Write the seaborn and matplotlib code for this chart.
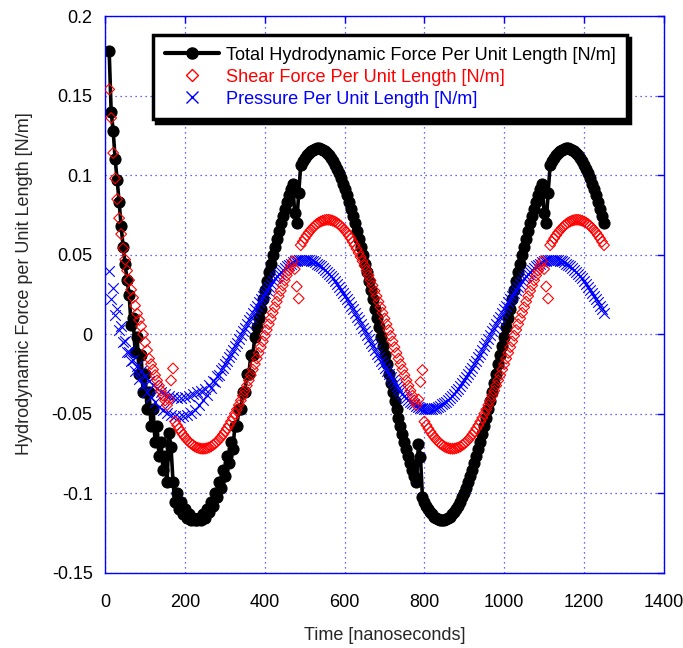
import numpy as np
import pandas as pd
import seaborn as sns
import matplotlib
matplotlib.use("Agg")
from matplotlib import pyplot as plt
from matplotlib.lines import Line2D
from matplotlib.ticker import FuncFormatter

# sampling times [ns], one sample every 5 ns
time_ns = np.arange(10, 1255, 5)

# total hydrodynamic force per unit length [N/m]
total_force = [
    0.178, 0.140, 0.128, 0.110, 0.097, 0.083, 0.068, 0.055, 0.044, 0.034,
    0.025, 0.006, 0.0103, -0.011, -0.0015, -0.0248, -0.0132, -0.0362, -0.0248, -0.0471,
    -0.0362, -0.0576, -0.0471, -0.0676, -0.0576, -0.0768, -0.0676, -0.0853, -0.0768, -0.0929,
    -0.062, -0.071, -0.0929, -0.1052, -0.0996, -0.1098, -0.1052, -0.1133, -0.1098, -0.1157,
    -0.1133, -0.1169, -0.1157, -0.1169, -0.1169, -0.1157, -0.1169, -0.1133, -0.1157, -0.1098,
    -0.1117, -0.1052, -0.1077, -0.0996, -0.1025, -0.0929, -0.0964, -0.0853, -0.0892, -0.0768,
    -0.0812, -0.0676, -0.0723, -0.0576, -0.0576, -0.0471, -0.0471, -0.0362, -0.0362, -0.0248,
    -0.0248, -0.0132, -0.0132, -0.0015, 0.0044, 0.0103, 0.0161, 0.0219, 0.0277, 0.0333,
    0.0389, 0.0444, 0.0498, 0.0551, 0.0602, 0.0652, 0.0700, 0.0746, 0.0790, 0.0832,
    0.0873, 0.0911, 0.0947, 0.076, 0.070, 0.089, 0.1065, 0.1088, 0.1108, 0.1126,
    0.1140, 0.1152, 0.1161, 0.1167, 0.1170, 0.1170, 0.1167, 0.1161, 0.1152, 0.1140,
    0.1126, 0.1108, 0.1088, 0.1065, 0.1039, 0.1011, 0.0980, 0.0947, 0.0911, 0.0873,
    0.0832, 0.0790, 0.0746, 0.0700, 0.0652, 0.0602, 0.0551, 0.0498, 0.0444, 0.0389,
    0.0333, 0.0277, 0.0219, 0.0161, 0.0103, 0.0044, -0.0015, -0.0073, -0.0132, -0.0190,
    -0.0248, -0.0305, -0.0362, -0.0417, -0.0471, -0.0525, -0.0576, -0.0627, -0.0676, -0.0723,
    -0.0768, -0.0812, -0.0853, -0.0892, -0.0929, -0.069, -0.077, -0.1025, -0.1052, -0.1077,
    -0.1098, -0.1117, -0.1133, -0.1146, -0.1157, -0.1164, -0.1169, -0.1170, -0.1169, -0.1164,
    -0.1157, -0.1146, -0.1133, -0.1117, -0.1098, -0.1077, -0.1052, -0.1025, -0.0996, -0.0964,
    -0.0929, -0.0892, -0.0853, -0.0812, -0.0768, -0.0723, -0.0676, -0.0627, -0.0576, -0.0525,
    -0.0471, -0.0417, -0.0362, -0.0305, -0.0248, -0.0190, -0.0132, -0.0073, -0.0015, 0.0044,
    0.0103, 0.0161, 0.0219, 0.0277, 0.0333, 0.0389, 0.0444, 0.0498, 0.0551, 0.0602,
    0.0652, 0.0700, 0.0746, 0.0790, 0.0832, 0.0873, 0.0911, 0.0947, 0.076, 0.070,
    0.089, 0.1065, 0.1088, 0.1108, 0.1126, 0.1140, 0.1152, 0.1161, 0.1167, 0.1170,
    0.1170, 0.1167, 0.1161, 0.1152, 0.1140, 0.1126, 0.1108, 0.1088, 0.1065, 0.1039,
    0.1011, 0.0980, 0.0947, 0.0911, 0.0873, 0.0832, 0.0790, 0.0746, 0.0700,
]

# shear force per unit length [N/m]
shear_force = [
    0.154, 0.136, 0.114, 0.098, 0.085, 0.073, 0.063, 0.054, 0.047, 0.040,
    0.034, 0.028, 0.023, 0.018, 0.013, 0.009, 0.005, 0.000, -0.005, -0.010,
    -0.0153, -0.0188, -0.0222, -0.0257, -0.0290, -0.0323, -0.0355, -0.0386, -0.0416, -0.0445,
    -0.041, -0.029, -0.0215, -0.0549, -0.0572, -0.0593, -0.0613, -0.0631, -0.0648, -0.0663,
    -0.0676, -0.0688, -0.0697, -0.0706, -0.0712, -0.0716, -0.0719, -0.0720, -0.0719, -0.0716,
    -0.0712, -0.0706, -0.0697, -0.0688, -0.0676, -0.0663, -0.0648, -0.0631, -0.0613, -0.0593,
    -0.0572, -0.0549, -0.0525, -0.0499, -0.0473, -0.0445, -0.0416, -0.0386, -0.0355, -0.0323,
    -0.0290, -0.0257, -0.0222, -0.0188, -0.0153, -0.0117, -0.0081, -0.0045, -0.0009, 0.0027,
    0.0063, 0.0099, 0.0135, 0.0170, 0.0205, 0.0240, 0.0273, 0.0307, 0.0339, 0.0370,
    0.0401, 0.0431, 0.0459, 0.041, 0.030, 0.0225, 0.0560, 0.0582, 0.0603, 0.0622,
    0.0640, 0.0655, 0.0669, 0.0682, 0.0693, 0.0702, 0.0709, 0.0714, 0.0718, 0.0720,
    0.0720, 0.0718, 0.0714, 0.0709, 0.0702, 0.0693, 0.0682, 0.0669, 0.0655, 0.0640,
    0.0622, 0.0603, 0.0582, 0.0560, 0.0537, 0.0512, 0.0486, 0.0459, 0.0431, 0.0401,
    0.0370, 0.0339, 0.0307, 0.0273, 0.0240, 0.0205, 0.0170, 0.0135, 0.0099, 0.0063,
    0.0027, -0.0009, -0.0045, -0.0081, -0.0117, -0.0153, -0.0188, -0.0222, -0.0257, -0.0290,
    -0.0323, -0.0355, -0.0386, -0.0416, -0.0445, -0.041, -0.030, -0.0225, -0.0549, -0.0572,
    -0.0593, -0.0613, -0.0631, -0.0648, -0.0663, -0.0676, -0.0688, -0.0697, -0.0706, -0.0712,
    -0.0716, -0.0719, -0.0720, -0.0719, -0.0716, -0.0712, -0.0706, -0.0697, -0.0688, -0.0676,
    -0.0663, -0.0648, -0.0631, -0.0613, -0.0593, -0.0572, -0.0549, -0.0525, -0.0499, -0.0473,
    -0.0445, -0.0416, -0.0386, -0.0355, -0.0323, -0.0290, -0.0257, -0.0222, -0.0188, -0.0153,
    -0.0117, -0.0081, -0.0045, -0.0009, 0.0027, 0.0063, 0.0099, 0.0135, 0.0170, 0.0205,
    0.0240, 0.0273, 0.0307, 0.0339, 0.0370, 0.0401, 0.0431, 0.0459, 0.041, 0.030,
    0.0225, 0.0560, 0.0582, 0.0603, 0.0622, 0.0640, 0.0655, 0.0669, 0.0682, 0.0693,
    0.0702, 0.0709, 0.0714, 0.0718, 0.0720, 0.0720, 0.0718, 0.0714, 0.0709, 0.0702,
    0.0693, 0.0682, 0.0669, 0.0655, 0.0640, 0.0622, 0.0603, 0.0582, 0.0560,
]

# pressure per unit length [N/m]
pressure = [
    0.040, 0.022, 0.029, 0.012, 0.016, 0.003, 0.005, -0.005, -0.004, -0.011,
    -0.011, -0.017, -0.0161, -0.0233, -0.0197, -0.0279, -0.0231, -0.0321, -0.0263, -0.0361,
    -0.0292, -0.0396, -0.0318, -0.0428, -0.0340, -0.0456, -0.0360, -0.0479, -0.0375, -0.0497,
    -0.0387, -0.0510, -0.0395, -0.0517, -0.0399, -0.0520, -0.0399, -0.0517, -0.0395, -0.0510,
    -0.0387, -0.0497, -0.0375, -0.0479, -0.0360, -0.0447, -0.0357, -0.0412, -0.0341, -0.0381,
    -0.0321, -0.0340, -0.0295, -0.0303, -0.0260, -0.0257, -0.0227, -0.0215, -0.0185, -0.0169,
    -0.0144, -0.0124, -0.0099, -0.0076, -0.0053, -0.0030, -0.0006, 0.0018, 0.0041, 0.0065,
    0.0088, 0.0111, 0.0134, 0.0156, 0.0178, 0.0200, 0.0221, 0.0242, 0.0262, 0.0281,
    0.0300, 0.0317, 0.0334, 0.0351, 0.0366, 0.0380, 0.0394, 0.0406, 0.0417, 0.0428,
    0.0437, 0.0445, 0.0452, 0.0458, 0.0463, 0.0466, 0.0469, 0.0470, 0.0470, 0.0469,
    0.0466, 0.0463, 0.0458, 0.0452, 0.0445, 0.0437, 0.0428, 0.0417, 0.0406, 0.0394,
    0.0380, 0.0366, 0.0351, 0.0334, 0.0317, 0.0300, 0.0281, 0.0262, 0.0242, 0.0221,
    0.0200, 0.0178, 0.0156, 0.0134, 0.0111, 0.0088, 0.0065, 0.0041, 0.0018, -0.0006,
    -0.0030, -0.0053, -0.0076, -0.0100, -0.0123, -0.0145, -0.0168, -0.0189, -0.0211, -0.0232,
    -0.0252, -0.0271, -0.0290, -0.0309, -0.0326, -0.0343, -0.0358, -0.0373, -0.0387, -0.0400,
    -0.0412, -0.0423, -0.0433, -0.0441, -0.0449, -0.0455, -0.0461, -0.0465, -0.0468, -0.0469,
    -0.0470, -0.0469, -0.0468, -0.0465, -0.0461, -0.0455, -0.0449, -0.0441, -0.0433, -0.0423,
    -0.0412, -0.0400, -0.0387, -0.0373, -0.0358, -0.0343, -0.0326, -0.0309, -0.0290, -0.0271,
    -0.0252, -0.0232, -0.0211, -0.0189, -0.0168, -0.0145, -0.0123, -0.0100, -0.0076, -0.0053,
    -0.0030, -0.0006, 0.0018, 0.0041, 0.0065, 0.0088, 0.0111, 0.0134, 0.0156, 0.0178,
    0.0200, 0.0221, 0.0242, 0.0262, 0.0281, 0.0300, 0.0317, 0.0334, 0.0351, 0.0366,
    0.0380, 0.0394, 0.0406, 0.0417, 0.0428, 0.0437, 0.0445, 0.0452, 0.0458, 0.0463,
    0.0466, 0.0469, 0.0470, 0.0470, 0.0469, 0.0466, 0.0463, 0.0458, 0.0452, 0.0445,
    0.0437, 0.0428, 0.0417, 0.0406, 0.0394, 0.0380, 0.0366, 0.0351, 0.0334, 0.0317,
    0.0300, 0.0281, 0.0262, 0.0242, 0.0221, 0.0200, 0.0178, 0.0156, 0.0134,
]

labels = [
    "Total Hydrodynamic Force Per Unit Length [N/m]",
    "Shear Force Per Unit Length [N/m]",
    "Pressure Per Unit Length [N/m]",
]

df = pd.DataFrame({"time": time_ns, "total": total_force,
                   "shear": shear_force, "pressure": pressure})

sns.set_style("white")
plt.rcParams["font.family"] = ["Liberation Sans", "DejaVu Sans"]
plt.rcParams["axes.unicode_minus"] = False

fig = plt.figure(figsize=(6.83, 6.48), dpi=100)
ax = fig.add_axes([0.154, 0.116, 0.818, 0.859])

# total force: black line with dots
sns.lineplot(data=df, x="time", y="total", ax=ax, color="black", lw=2.6,
             marker="o", markersize=8, markeredgecolor="black",
             markerfacecolor="black", errorbar=None, sort=False, zorder=2)
# pressure: blue crosses
sns.scatterplot(data=df, x="time", y="pressure", ax=ax, marker="x", color="#0000ff",
                s=58, linewidth=0.8, zorder=3)
# shear: open red diamonds
sns.scatterplot(data=df, x="time", y="shear", ax=ax, marker="D", color="#ff0000",
                facecolor="none", edgecolor="#ff0000", s=30, linewidth=0.8, zorder=4)

ax.set_xlim(0, 1400)
ax.set_ylim(-0.15, 0.2)
ax.set_xticks(np.arange(0, 1401, 200))
ax.set_yticks([-0.15, -0.1, -0.05, 0, 0.05, 0.1, 0.15, 0.2])
ax.yaxis.set_major_formatter(FuncFormatter(lambda v, p: "%g" % round(v, 3)))

for sp in ax.spines.values():
    sp.set_color("#0000ff")
    sp.set_linewidth(1.0)
ax.set_axisbelow(True)
ax.grid(True, color="#0000ff", linestyle=(0, (1, 3)), linewidth=0.9, alpha=0.8)
ax.tick_params(axis="both", direction="in", length=5, width=1, color="#0000ff",
               labelsize=13, labelcolor="black", top=True, right=True)
ax.tick_params(axis="x", pad=15)
ax.tick_params(axis="y", pad=9)

ax.set_xlabel("Time [nanoseconds]", fontsize=13, labelpad=12)
ax.set_ylabel("Hydrodynamic Force per Unit Length [N/m]", fontsize=13)
ax.yaxis.set_label_coords(-0.13, 0.52)

handles = [
    Line2D([], [], color="black", lw=3, marker="o", markersize=8),
    Line2D([], [], color="#ff0000", lw=0, marker="D", markersize=6,
           markerfacecolor="none", markeredgewidth=1),
    Line2D([], [], color="#0000ff", lw=0, marker="x", markersize=9, markeredgewidth=1),
]
leg = ax.legend(handles, labels, loc="upper left",
                bbox_to_anchor=(153 / 683, 1 - 35 / 648), bbox_transform=fig.transFigure,
                borderaxespad=0, fontsize=13.1, handlelength=2.95, handletextpad=0.4,
                labelspacing=0.27, borderpad=0.65, numpoints=1, fancybox=False,
                framealpha=1, edgecolor="black",
                labelcolor=["black", "#ff0000", "#0000ff"],
                shadow={"color": "black", "alpha": 1.0, "ox": 2.2, "oy": -2.2})
leg.get_frame().set_linewidth(2.5)

fig.savefig("out.png", dpi=100)
